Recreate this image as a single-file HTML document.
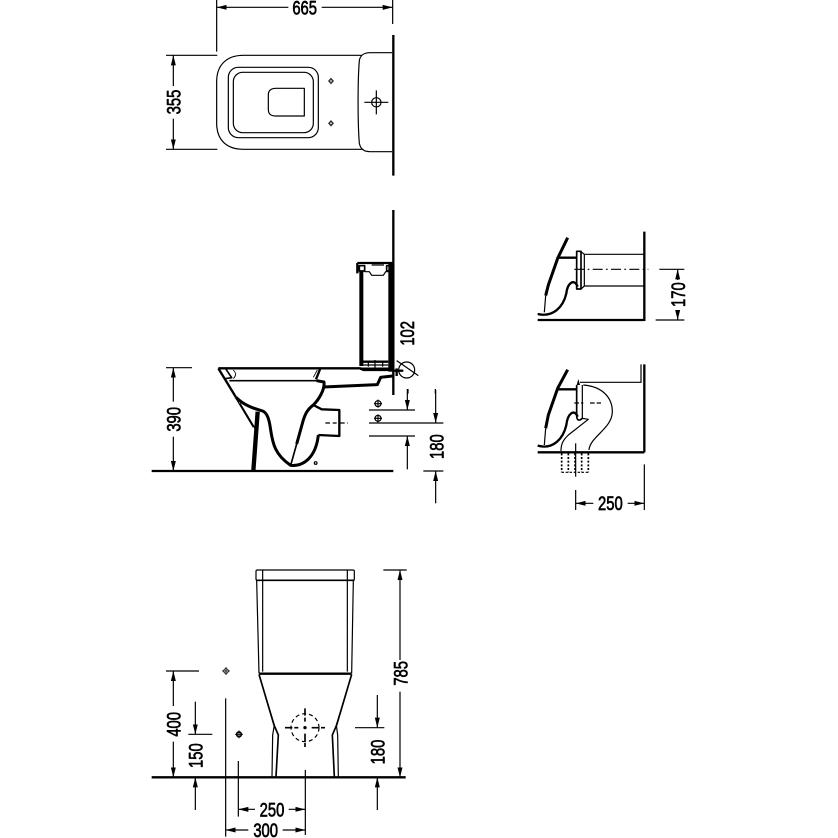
<!DOCTYPE html>
<html>
<head>
<meta charset="utf-8">
<style>
html,body{margin:0;padding:0;background:#fff;width:838px;height:838px;overflow:hidden}
svg{display:block}
.t{font-family:"Liberation Sans",sans-serif;font-size:57px;text-anchor:middle;fill:#000;stroke:#000;stroke-width:2}
g.d{fill:none;stroke:#000;stroke-width:3.6;stroke-linecap:butt;stroke-linejoin:round}
.k{stroke-width:7}
.x{stroke-width:9}
.m{stroke-width:5}
.f{fill:#000;stroke:none}
.h{stroke-width:2.5}
</style>
</head>
<body>
<svg width="838" height="838" viewBox="0 0 838 838" xmlns="http://www.w3.org/2000/svg">
<defs>
<marker id="b" viewBox="0 0 10 5" refX="10" refY="2.5" markerWidth="30" markerHeight="16" markerUnits="userSpaceOnUse" orient="auto">
<path d="M0 0L10 2.5L0 5z" fill="#000"/>
</marker>
</defs>

<!-- TOP VIEW -->
<g class="d" transform="translate(150 0) scale(.33333)">
<path d="M200 0V155M728 0V72"/>
<path d="M415 22H200" marker-end="url(#b)"/>
<path d="M515 22H728" marker-end="url(#b)"/>
<text class="t" transform="translate(464 44) scale(.78 1)">665</text>
<path d="M48 166H202M48 448H202"/>
<path d="M70 258V166" marker-end="url(#b)"/>
<path d="M70 356V448" marker-end="url(#b)"/>
<text class="t" transform="translate(92 306) rotate(-90) scale(.78 1)">355</text>
<path d="M635 166H280C230 166 200 195 200 245V370C200 420 230 448 280 448H640"/>
<path d="M726 158H660C640 158 630 168 628 182C623 240 623 370 628 430C632 448 642 455 660 455H726"/>
<path class="k" d="M730 105V527"/>
<rect x="235" y="202" width="270" height="211" rx="30"/>
<rect x="250" y="217" width="240" height="181" rx="28"/>
<path d="M463 265H378C362 265 355 272 355 285V328C355 342 362 348 378 348H463Z"/>
<path class="f" d="M543 233l9 10l-9 10l-9-10zM543 360l9 10l-9 10l-9-10z" style="fill:#333"/>
<circle cx="543" cy="243" r="2.5" fill="#fff" stroke="none"/>
<circle cx="543" cy="370" r="2.5" fill="#fff" stroke="none"/>
<circle cx="679" cy="307" r="14"/>
<path d="M643 307H715M679 271V343"/>
<circle cx="679" cy="307" r="3" class="f"/>
</g>

<!-- SIDE VIEW -->
<g class="d" transform="translate(150 340) scale(.33333)">
<path class="k" d="M5 393H730"/>
<path d="M48 83H126"/>
<path d="M70 185V83" marker-end="url(#b)"/>
<path d="M70 290V393" marker-end="url(#b)"/>
<text class="t" transform="translate(92 238) rotate(-90) scale(.78 1)">390</text>

<path class="k" d="M205 85H632"/>
<path class="k" d="M205 85L258 172"/>
<path class="m" d="M228 88L245 113L225 116"/>
<path class="m" d="M238 122H505"/>
<path class="h" d="M250 90C265 105 250 115 250 116M490 112L502 90"/>
<path class="k" d="M510 88L498 118"/>
<path class="x" d="M258 172C280 195 310 205 335 212C352 216 358 240 362 270C368 310 375 345 422 376C462 380 498 350 505 285"/>
<path class="k" d="M505 285L568 288V210L515 208L490 195"/>
<path class="x" d="M500 122L522 126C525 150 505 180 490 195C470 210 465 225 460 240L440 312"/>
<path class="m" d="M440 312L422 376"/>
<path class="x" d="M520 141L682 134L692 112L728 108"/>
<path class="k" d="M630 85L640 90H725"/>
<path d="M270 190L315 265"/>
<path d="M258 175L310 262"/>
<path stroke-width="13" d="M323 215L310 393"/>
<path d="M526 249H560M570 249H594" stroke-dasharray="14 8"/>
<circle cx="497" cy="369" r="4"/>

<path d="M657 210H795M657 249H880M657 288H795M820 393H880"/>
<path d="M772 147V210" marker-end="url(#b)"/>
<path d="M772 388V288" marker-end="url(#b)"/>
<path d="M857 150V249" marker-end="url(#b)"/>
<path d="M857 490V393" marker-end="url(#b)"/>
<text class="t" transform="translate(880 320) rotate(-90) scale(.78 1)">180</text>
<circle cx="684" cy="191" r="9"/><path d="M672 191H696M684 179V203"/>
<circle cx="684" cy="235" r="9"/><path d="M672 235H696M684 223V247"/>
<circle cx="770" cy="90" r="24"/>
<path d="M740 62L805 107"/>
<path class="k" d="M740 85V108M732 92H760"/>
</g>

<!-- WALL + CISTERN -->
<g class="d" transform="translate(340 205) scale(.33333)">
<path class="k" d="M160 15V570"/>
<path class="k" d="M52 174H158M52 174V205"/>
<rect class="f" x="58" y="198" width="12" height="285"/>
<rect class="f" x="145" y="175" width="15" height="325"/>
<path class="m" d="M58 182H74V198H58ZM140 182H155V198H140Z"/>
<path d="M95 180H132M74 200H88L95 211H130L137 200H145"/>
<path class="k" d="M60 470H145M60 491H150"/>
<path d="M85 470V485M105 465V488M128 470V485M65 480H145"/>
<text class="t" transform="translate(222 385) rotate(-90) scale(.78 1)">102</text>
<path d="M204 552V566M286 552V566"/>
</g>

<!-- DETAIL 1 -->
<g class="d" transform="translate(525 225) scale(.33333)">
<path class="k" d="M358 20V288M38 285H358"/>
<path d="M178 88H358M178 183H358"/>
<rect class="m" x="155" y="79" width="13" height="113"/>
<path d="M168 80L178 88V183L168 192"/>
<path d="M148 133H370" stroke-dasharray="30 10 5 10"/>
<path class="x" d="M128 38L98 100L70 180L62 212"/>
<path d="M62 212L58 262"/>
<path class="k" d="M100 98H155"/>
<path class="k" d="M38 267C85 278 115 245 124 205C128 172 148 160 158 185"/>
<path d="M403 133H478M392 285H478"/>
<path d="M458 165V133" marker-end="url(#b)"/>
<path d="M458 255V285" marker-end="url(#b)"/>
<text class="t" transform="translate(480 209) rotate(-90) scale(.78 1)">170</text>
</g>

<!-- DETAIL 2 -->
<g class="d" transform="translate(525 355) scale(.33333)">
<path class="k" d="M358 28V292M38 292H358"/>
<path d="M348 28V82H165"/>
<path d="M175 90C235 95 262 130 262 170C262 220 195 245 192 285"/>
<path d="M108 288C108 265 115 255 130 240L190 193L172 190V90"/>
<path class="m" d="M155 90V180C155 195 160 200 172 190"/>
<path class="f" d="M155 90L160 72L165 90Z"/>
<path class="x" d="M128 44L98 100L70 180L62 220"/>
<path d="M62 220L58 270"/>
<path class="k" d="M100 103H155"/>
<path class="k" d="M38 272C85 285 115 250 124 210C128 175 148 160 158 185"/>
<path d="M148 144H175M195 144H228" stroke-dasharray="14 6"/>
<path class="m" d="M110 295V352M130 295V352M150 295V352M170 295V352M190 295V352" stroke-dasharray="6 5"/>
<path d="M110 352H190" stroke-dasharray="7 5"/>
<path d="M152 265V365"/>
<path d="M152 405V465M358 328V465"/>
<path d="M205 445H152" marker-end="url(#b)"/>
<path d="M308 445H358" marker-end="url(#b)"/>
<text class="t" transform="translate(256 465) scale(.78 1)">250</text>
</g>

<!-- FRONT VIEW -->
<g class="d" transform="translate(150 560) scale(.33333)">
<path class="k" d="M5 652H767"/>
<rect x="318" y="30" width="295" height="31" rx="4"/>
<path class="m" d="M318 61H613"/>
<path d="M320 62L327 340M610 62L605 340M338 30V335M592 30V335"/>
<path class="k" d="M327 341H605"/>
<path class="m" d="M327 343L372 495L385 525L378 650"/>
<path d="M345 405L373 495L368 525L366 650"/>
<path class="m" d="M605 343L560 495L547 525L553 650"/>
<path d="M587 405L559 495L563 525L565 650"/>

<path d="M700 30H770"/>
<path d="M750 300V30" marker-end="url(#b)"/>
<path d="M750 395V652" marker-end="url(#b)"/>
<text class="t" transform="translate(772 340) rotate(-90) scale(.78 1)">785</text>

<path d="M48 333H147"/>
<path d="M70 438V333" marker-end="url(#b)"/>
<path d="M70 545V652" marker-end="url(#b)"/>
<text class="t" transform="translate(92 493) rotate(-90) scale(.78 1)">400</text>

<path d="M115 523H187"/>
<path d="M136 425V523" marker-end="url(#b)"/>
<path d="M136 750V652" marker-end="url(#b)"/>
<text class="t" transform="translate(157 587) rotate(-90) scale(.78 1)">150</text>

<path d="M615 503H703"/>
<path d="M682 405V503" marker-end="url(#b)"/>
<path d="M682 750V652" marker-end="url(#b)"/>
<text class="t" transform="translate(703 576) rotate(-90) scale(.78 1)">180</text>

<path d="M265 603V770M466 630V825M227 415V830"/>
<path d="M315 748H265" marker-end="url(#b)"/>
<path d="M416 748H466" marker-end="url(#b)"/>
<text class="t" transform="translate(366 769) scale(.78 1)">250</text>
<path d="M295 810H227" marker-end="url(#b)"/>
<path d="M398 810H466" marker-end="url(#b)"/>
<text class="t" transform="translate(347 831) scale(.78 1)">300</text>

<circle class="h" cx="228" cy="333" r="7"/><path class="h" d="M216 333H240M228 321V345"/>
<circle cx="267" cy="523" r="7" stroke-width="5"/><path class="h" d="M255 523H279M267 511V535"/>
<circle cx="465" cy="503" r="42" stroke-dasharray="12 9"/>
<path class="m" d="M405 503H445M485 503H525M465 445V485M465 521V561" stroke-dasharray="22 6"/>
<circle cx="465" cy="503" r="5" class="f"/>
</g>
</svg>
</body>
</html>
